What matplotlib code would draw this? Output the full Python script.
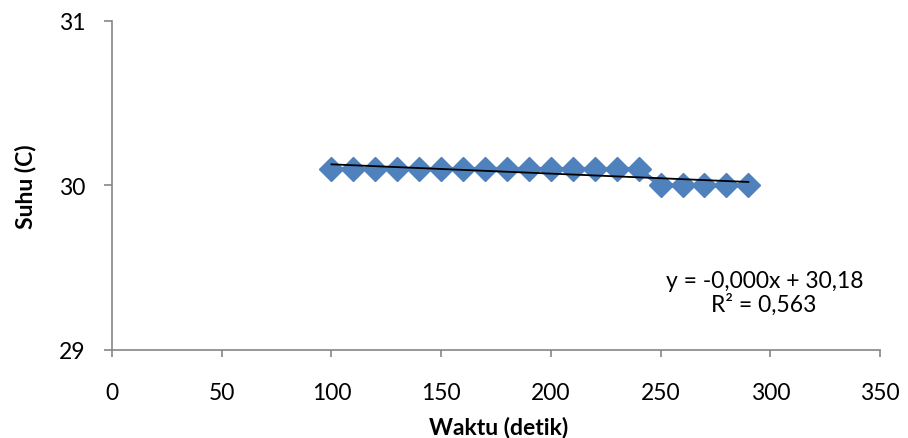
import numpy as np
import matplotlib.pyplot as plt

plt.rcParams['font.family'] = ['Lato', 'DejaVu Sans']

# data
waktu = [100, 110, 120, 130, 140, 150, 160, 170, 180, 190,
         200, 210, 220, 230, 240, 250, 260, 270, 280, 290]
suhu = [30.1] * 15 + [30.0] * 5

# trendline
a, b = np.polyfit(waktu, suhu, 1)
xt = np.array([min(waktu), max(waktu)])

fig = plt.figure(figsize=(9.08, 4.39), dpi=100)
ax = fig.add_axes([0.1233, 0.2005, 0.8459, 0.7494])

ax.plot(waktu, suhu, color='#4F81BD', marker='D', markersize=12,
        linewidth=3, zorder=2)
ax.plot(xt, a * xt + b, color='black', linewidth=1.3, zorder=3)

ax.set_xlim(0, 350)
ax.set_ylim(29, 31)
ax.set_xticks(range(0, 351, 50))
ax.set_yticks([29, 30, 31])

for s in ['top', 'right']:
    ax.spines[s].set_visible(False)
for s in ['left', 'bottom']:
    ax.spines[s].set_color('#868686')
    ax.spines[s].set_linewidth(1.2)
ax.tick_params(colors='#868686', labelcolor='black', labelsize=16.5,
               width=1.2, direction='out')
ax.tick_params(axis='y', length=6, pad=13)
ax.tick_params(axis='x', length=5, pad=18)

ax.set_xlabel('Waktu (detik)', fontsize=16.5, fontweight='bold')
ax.set_ylabel('Suhu (C)', fontsize=16.5, fontweight='bold')
ax.xaxis.set_label_coords(0.504, -0.234)
ax.xaxis.label.set_va('center')
ax.yaxis.set_label_coords(-0.112, 0.5)
ax.yaxis.label.set_va('center')

ax.text(297.6, 29.42, 'y = -0,000x + 30,18', fontsize=16.5, ha='center', va='center')
ax.text(297, 29.28, 'R² = 0,563', fontsize=16.5, ha='center', va='center')

fig.savefig('out.png', dpi=100)
